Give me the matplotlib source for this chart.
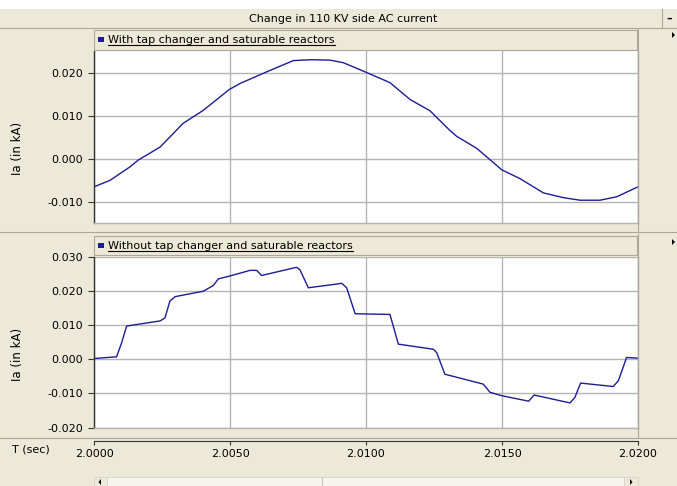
import matplotlib
matplotlib.use("Agg")
import matplotlib.pyplot as plt
from matplotlib.patches import Rectangle, Polygon
from matplotlib.lines import Line2D
import numpy as np

W, H = 677, 486

# top trace: with tap changer and saturable reactors
t_top = [2.0000, 2.00059, 2.00132, 2.00163, 2.00243, 2.00328, 2.00402, 2.00497,
         2.00537, 2.00635, 2.00733, 2.0080, 2.00868, 2.00917, 2.0100, 2.01088,
         2.01162, 2.01235, 2.01309, 2.01333, 2.01407, 2.0150, 2.01566, 2.01652,
         2.01725, 2.01787, 2.0186, 2.01922, 2.0200]
ia_top = [-0.0064, -0.0049, -0.0018, -0.0002, 0.0028, 0.0083, 0.0113, 0.0161,
          0.0175, 0.0202, 0.0228, 0.0230, 0.0229, 0.0223, 0.0201, 0.0177,
          0.0138, 0.0112, 0.0066, 0.0053, 0.0025, -0.0025, -0.0045, -0.0078,
          -0.0089, -0.0095, -0.0095, -0.0087, -0.0064]

# bottom trace: without tap changer and saturable reactors
t_bot = [2.0000, 2.00083, 2.00102, 2.0012, 2.00243, 2.00261, 2.00279, 2.00298,
         2.00402, 2.00439, 2.00457, 2.00497, 2.00574, 2.00598, 2.00616, 2.00745,
         2.00757, 2.00788, 2.00911, 2.00929, 2.0096, 2.01088, 2.01119, 2.01248,
         2.0126, 2.0129, 2.01431, 2.01456, 2.0150, 2.01598, 2.01618, 2.0175,
         2.01768, 2.01789, 2.01909, 2.01928, 2.01958, 2.0200]
ia_bot = [0.0002, 0.0007, 0.0049, 0.0097, 0.0112, 0.0121, 0.0170, 0.0183,
          0.0199, 0.0216, 0.0235, 0.0243, 0.0260, 0.0260, 0.0245, 0.0269,
          0.0262, 0.0209, 0.0222, 0.0209, 0.0133, 0.0131, 0.0044, 0.0029,
          0.0019, -0.0044, -0.0073, -0.0097, -0.0107, -0.0123, -0.0105, -0.0128,
          -0.0112, -0.0070, -0.0080, -0.0063, 0.0005, 0.0003]

x_ticks = [2.0000, 2.0050, 2.0100, 2.0150, 2.0200]
x_labels = ["2.0000", "2.0050", "2.0100", "2.0150", "2.0200"]
y_ticks_top = [-0.010, 0.000, 0.010, 0.020]
y_ticks_bot = [-0.020, -0.010, 0.000, 0.010, 0.020, 0.030]

title = "Change in 110 KV side AC current"
name_top = "With tap changer and saturable reactors"
name_bot = "Without tap changer and saturable reactors"

BEIGE = "#ECE9D8"
EDGE = "#ACA899"
NAVY = "#1c1c96"
GRID = "#b4b4b4"

plt.rcParams["font.family"] = "DejaVu Sans"
plt.rcParams["font.size"] = 8

fig = plt.figure(figsize=(W / 100, H / 100), dpi=100, facecolor=BEIGE)


def fx(x):
    return x / W


def fy(y):
    return 1 - y / H


def box(x0, y0, x1, y1, fc, ec="none", lw=0.8, z=0):
    fig.patches.append(Rectangle((fx(x0), fy(y1)), (x1 - x0) / W, (y1 - y0) / H,
                                 transform=fig.transFigure, fc=fc, ec=ec, lw=lw, zorder=z))


def line(x0, y0, x1, y1, c=EDGE, lw=0.8):
    fig.lines.append(Line2D([fx(x0), fx(x1)], [fy(y0), fy(y1)], transform=fig.transFigure,
                            color=c, lw=lw))


def tri(x, y, d):
    pts = [(fx(x), fy(y - 3)), (fx(x), fy(y + 3)), (fx(x + 3 * d), fy(y))]
    fig.patches.append(Polygon(pts, closed=True, transform=fig.transFigure, fc="black", ec="none"))


# window chrome
box(0, 0, W, 9, "white")
box(0, 9, 662, 28.5, BEIGE)
line(0, 28.5, W, 28.5)
line(662, 9, 662, 28.5)
fig.text(fx(343), fy(19), title, ha="center", va="center", fontsize=8)
fig.text(fx(669), fy(19), "–", ha="center", va="center", fontsize=8, weight="bold")
line(0, 232.5, W, 232.5)
line(0, 438.3, W, 438.3)
line(637.5, 29, 637.5, 232)
line(637.5, 234, 637.5, 438)
tri(672, 35, 1)
tri(672, 242, 1)


def panel(ax_top, ax_bot, t, ia, yticks, ylim, name, head_y0, head_y1, ylab_y):
    box(94, head_y0, 637, head_y1, BEIGE, ec=EDGE, lw=0.8)
    ax = fig.add_axes([fx(94), fy(ax_bot), (638 - 94) / W, (ax_bot - ax_top) / H])
    ax.set_facecolor("white")
    ax.plot(t, ia, color=NAVY, lw=1.0)
    ax.set_xlim(2.0, 2.02)
    ax.set_ylim(*ylim)
    ax.set_xticks(x_ticks)
    ax.set_yticks(yticks)
    ax.set_yticklabels(["%.3f" % v for v in yticks])
    ax.grid(True, color=GRID, lw=1.0)
    ax.tick_params(axis="x", bottom=False, labelbottom=False)
    ax.tick_params(axis="y", length=4.5, width=0.8, pad=3.5, labelsize=8, color="#333333")
    for s in ["top", "right", "bottom"]:
        ax.spines[s].set_color(GRID)
        ax.spines[s].set_linewidth(1.0)
    ax.spines["top"].set_visible(False)
    ax.spines["left"].set_color("#333333")
    ax.spines["left"].set_linewidth(1.0)
    fig.text(fx(18), fy(ylab_y), "Ia (in kA)", rotation=90, ha="center", va="center", fontsize=8.5)
    ymid = (head_y0 + head_y1) / 2
    box(98, ymid - 3, 104, ymid + 2, NAVY, z=3)
    txt = fig.text(fx(108), fy(ymid), name, ha="left", va="center", fontsize=8, zorder=3)
    return ax, txt


ax1, txt1 = panel(51.5, 222.7, t_top, ia_top, y_ticks_top, (-0.0147, 0.0249),
                  name_top, 30, 50, 148)
ax2, txt2 = panel(256.7, 427.5, t_bot, ia_bot, y_ticks_bot, (-0.020, 0.030),
                  name_bot, 236.5, 255.5, 354)

# underline legend names
fig.canvas.draw()
for txt in [txt1, txt2]:
    bb = txt.get_window_extent()
    yb = bb.y0 - 0.5
    fig.lines.append(Line2D([bb.x0 / W, bb.x1 / W], [yb / H, yb / H],
                            transform=fig.transFigure, color="black", lw=0.8, zorder=3))

# time axis
axt = fig.add_axes([fx(94), fy(440.7), (638 - 94) / W, 0.0001])
axt.set_facecolor("none")
axt.set_xlim(2.0, 2.02)
axt.set_yticks([])
axt.set_xticks(x_ticks)
axt.set_xticklabels(x_labels)
for s in ["top", "right", "left"]:
    axt.spines[s].set_visible(False)
axt.spines["bottom"].set_color("#333333")
axt.tick_params(axis="x", length=3, width=0.8, pad=3, labelsize=8, color="#333333")
fig.text(fx(12), fy(449), "T (sec)", ha="left", va="center", fontsize=8)

# scrollbar
box(94, 477, 638, 486, "#f5f4ee", ec="#d8d6cc", lw=0.6)
box(94, 477, 107, 486, BEIGE, ec="#d8d6cc", lw=0.6)
box(624, 477, 638, 486, BEIGE, ec="#d8d6cc", lw=0.6)
line(322, 477, 322, 486, c="#c8c6bc")
fig.patches.append(Polygon([(fx(101), fy(479)), (fx(101), fy(485)), (fx(98.5), fy(482))],
                           closed=True, transform=fig.transFigure, fc="black", ec="none"))
fig.patches.append(Polygon([(fx(630), fy(479)), (fx(630), fy(485)), (fx(632.5), fy(482))],
                           closed=True, transform=fig.transFigure, fc="black", ec="none"))

fig.savefig("out.png", dpi=100, facecolor=BEIGE)
